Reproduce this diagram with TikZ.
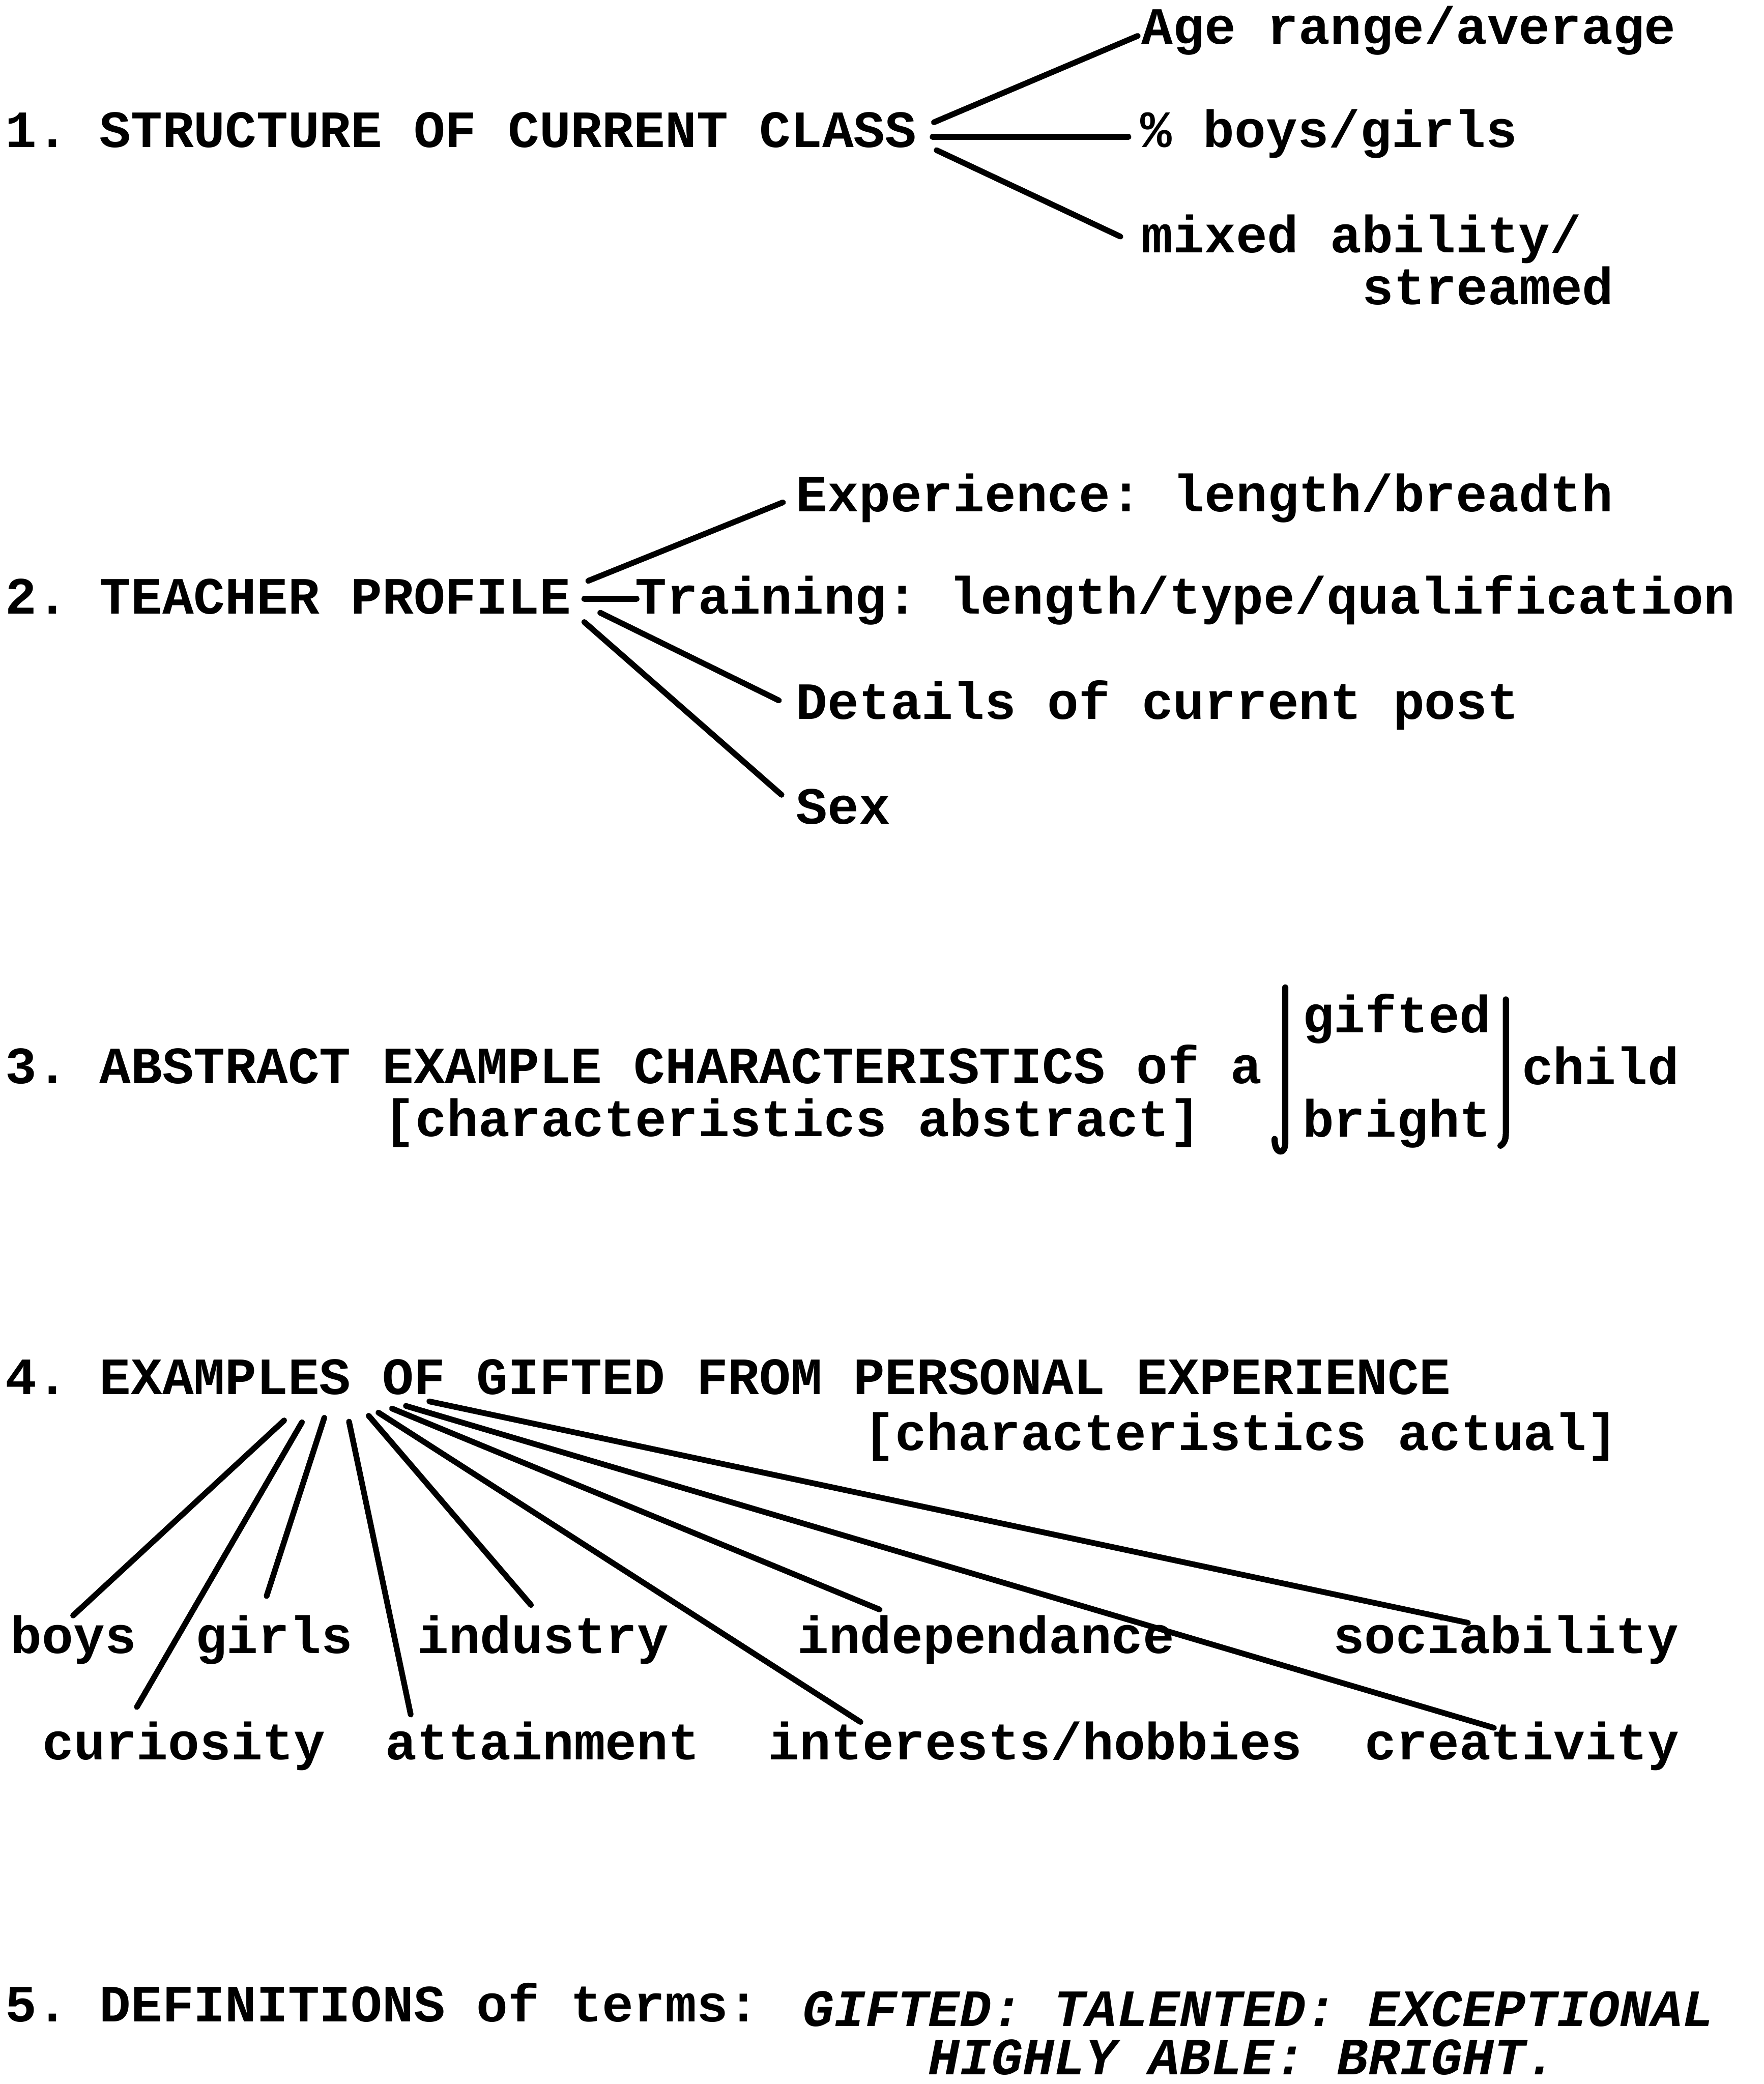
\documentclass[tikz,border=0pt]{standalone}
\usepackage{fontspec}
\newfontfamily\tw{Liberation Mono}
\usetikzlibrary{calc}
\begin{document}
\begin{tikzpicture}[x=0.3pt,y=-0.3pt,
  lbl/.style={inner sep=0pt, outer sep=0pt, anchor=base west,
    font=\tw\bfseries\frenchspacing\fontsize{11.82pt}{14pt}\selectfont},
  itl/.style={lbl, font=\tw\bfseries\itshape\frenchspacing\fontsize{11.82pt}{10.9pt}\selectfont},
  con/.style={line width=1.3pt, line cap=round},
  brk/.style={line width=1.4pt, line cap=round, line join=round}]
\useasboundingbox (0,0) rectangle (1327,1568);

% ---------- 1 ----------
\node[lbl] (t1) at (4,111) {1. STRUCTURE OF CURRENT CLASS};
\node[lbl] (age) at (859,33) {Age range/average};
\node[lbl] (pct) at (858,111) {\% boys/girls};
\node[lbl] (mix) at (859,190) {mixed ability/};
\node[lbl] (mix2) at (1025,229) {streamed};
\draw[con] ($(t1.base east)+(13,-19)$) -- ($(age.base west)+(-3,-6)$);
\draw[con] ($(t1.base east)+(12,-8)$) -- ($(pct.base west)+(-9,-8)$);
\draw[con] ($(t1.base east)+(15,2)$) -- ($(mix.base west)+(-16,-12)$);

% ---------- 2 ----------
\node[lbl] (t2) at (4,462) {2. TEACHER PROFILE};
\node[lbl] (exp) at (599,385) {Experience: length/breadth};
\node[lbl] (trn) at (478,462) {Training: length/type/qualification};
\node[lbl] (det) at (599,541) {Details of current post};
\node[lbl] (sex) at (599,620) {Sex};
\draw[con] ($(t2.base east)+(13,-25)$) -- ($(exp.base west)+(-10,-7)$);
\draw[con] ($(t2.base east)+(10,-11.4)$) -- ($(trn.base west)+(1,-11.4)$);
\draw[con] ($(t2.base east)+(22,-1)$) -- ($(det.base west)+(-13,-14)$);
\draw[con] ($(t2.base east)+(10,6)$) -- ($(sex.base west)+(-11,-22)$);

% ---------- 3 ----------
\node[lbl] (t3) at (4,815) {3. ABSTRACT EXAMPLE CHARACTERISTICS of a};
\node[lbl] (t3b) at (289,855) {[characteristics abstract]};
\node[lbl] (gif) at (980,777) {gifted};
\node[lbl] (bri) at (980,855.5) {bright};
\node[lbl] (chi) at (1145,816) {child};
\draw[brk] (967,743) -- (967,860) .. controls (967,869) and (959,869) .. (959,857);
\draw[brk] (1133,752) -- (1133,852) .. controls (1133,857) and (1132,860) .. (1129,862);

% ---------- 4 ----------
\node[lbl] (t4) at (4,1049) {4. EXAMPLES OF GIFTED FROM PERSONAL EXPERIENCE};
\node[lbl] (t4b) at (650,1091) {[characteristics actual]};
\node[lbl] (boys) at (8,1244) {boys};
\node[lbl] (girls) at (147,1244) {girls};
\node[lbl] (ind) at (314,1244) {industry};
\node[lbl] (indep) at (600,1244) {independance};
\node[lbl] (soc) at (1003,1244) {sociability};
\node[lbl] (cur) at (32,1324) {curiosity};
\node[lbl] (att) at (290,1324) {attainment};
\node[lbl] (int) at (578,1324) {interests/hobbies};
\node[lbl] (cre) at (1027,1324) {creativity};
\draw[con] ($(t4.base west)+(209.8,19.7)$) -- ($(boys.base west)+(47,-28.5)$);
\draw[con] ($(t4.base west)+(223.2,21.1)$) -- ($(cur.base west)+(71,-39.7)$);
\draw[con] ($(t4.base west)+(240,17.7)$) -- ($(girls.base west)+(53.6,-43.2)$);
\draw[con] ($(t4.base west)+(258.6,20.6)$) -- ($(att.base west)+(19,-34)$);
\draw[con] ($(t4.base west)+(273.4,16.2)$) -- ($(ind.base west)+(85.5,-36.4)$);
\draw[con] ($(t4.base west)+(280.7,13.8)$) -- ($(int.base west)+(69.4,-28.4)$);
\draw[con] ($(t4.base west)+(291,10.8)$) -- ($(indep.base west)+(61.8,-33)$);
\draw[con] ($(t4.base west)+(301.4,8.8)$) -- ($(cre.base west)+(97,-24)$);
\draw[con] ($(t4.base west)+(319,5.4)$) -- ($(soc.base west)+(101.5,-23)$);

% ---------- 5 ----------
\node[lbl] (t5) at (4,1521) {5. DEFINITIONS of terms:};
\node[itl, align=left] (t5a) at (604,1561)
  {GIFTED: TALENTED: EXCEPTIONAL\\\phantom{GIFT}HIGHLY ABLE: BRIGHT.};
\end{tikzpicture}
\end{document}
